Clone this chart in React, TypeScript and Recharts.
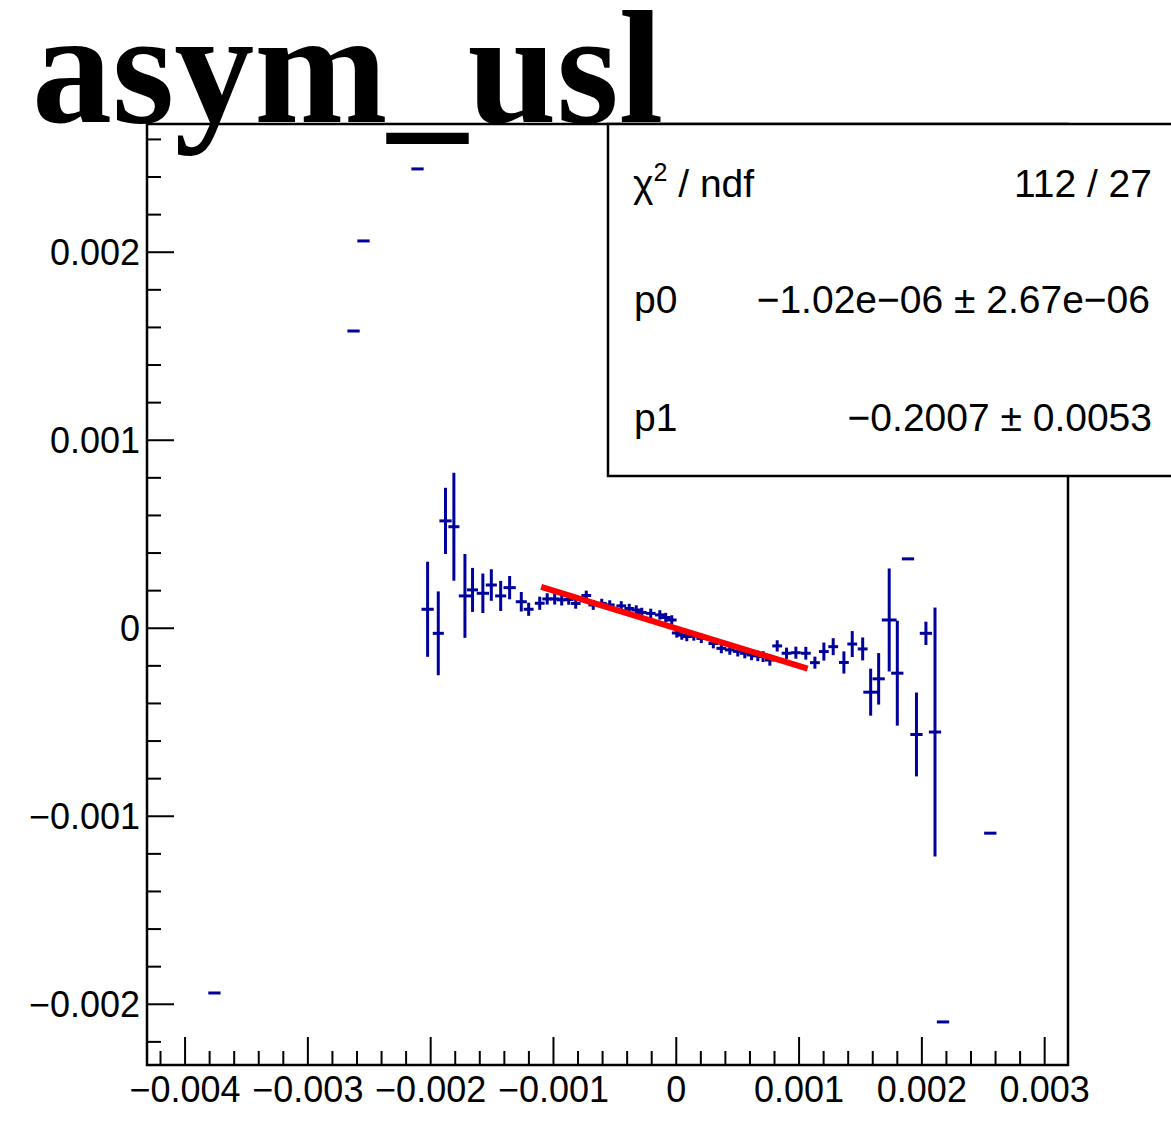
import React from 'react';
import { ComposedChart, Scatter, Line, XAxis, YAxis, ErrorBar, ReferenceArea } from 'recharts';

// ---------- data ----------
const xValues = [
  -0.003761, -0.002628, -0.002547, -0.002107,
  -0.002025, -0.001938, -0.001879, -0.001811, -0.001721, -0.001659, -0.001575, -0.001506,
  -0.00143, -0.001357, -0.001262, -0.001202, -0.001112, -0.001051, -0.00099, -0.000933,
  -0.000876, -0.000819, -0.000733, -0.000676, -0.000607, -0.000542, -0.000448, -0.000383,
  -0.000326, -0.000281, -0.000208, -0.000134, -0.000086, -0.000037, 0.000004, 0.000045,
  0.000086, 0.000143, 0.000204, 0.000302, 0.000367, 0.000436, 0.000501, 0.000558,
  0.000613, 0.000664, 0.000707, 0.000762, 0.000822, 0.000898, 0.000974, 0.001055,
  0.001129, 0.001202, 0.001278, 0.001365, 0.001433, 0.001518, 0.001583, 0.001648,
  0.001734, 0.0018, 0.001887, 0.001956, 0.002033, 0.002107, 0.002172, 0.002557,
];
const yValues = [
  -0.00194, 0.001581, 0.00206, 0.002443,
  0.000101, -0.000027, 0.000571, 0.00054, 0.000172, 0.000204, 0.000186, 0.00023,
  0.000172, 0.000216, 0.000141, 0.000101, 0.000133, 0.000156, 0.000156, 0.000151,
  0.000153, 0.000132, 0.000174, 0.000124, 0.000132, 0.000124, 0.000119, 0.000105,
  0.000097, 0.000084, 0.000079, 0.000071, 0.000057, 0.000044, -0.000025, -0.000036,
  -0.000044, -0.000041, -0.000054, -0.000081, -0.000107, -0.000115, -0.000123, -0.000133,
  -0.000142, -0.000147, -0.000151, -0.000169, -0.000094, -0.000133, -0.00013, -0.000133,
  -0.000183, -0.000124, -0.000098, -0.000182, -0.000084, -0.00011, -0.00034, -0.000269,
  0.000044, -0.000239, 0.000369, -0.000565, -0.000027, -0.000552, -0.002094, -0.00109,
];
const yErrors = [
  0, 0, 0, 0,
  0.000253, 0.000223, 0.000176, 0.000287, 0.000223, 0.000117, 0.000105, 0.000084,
  0.00008, 0.000062, 0.000052, 0.000035, 0.000035, 0.00003, 0.00003, 0.00003,
  0.000028, 0.000028, 0.000026, 0.000026, 0.000025, 0.000025, 0.000025, 0.000025,
  0.000025, 0.000025, 0.000025, 0.000025, 0.000025, 0.000025, 0.000025, 0.000025,
  0.000025, 0.000025, 0.000025, 0.000026, 0.000026, 0.000026, 0.000027, 0.000027,
  0.000028, 0.000028, 0.000029, 0.00003, 0.00003, 0.00003, 0.000032, 0.000034,
  0.000032, 0.000048, 0.000045, 0.000059, 0.000069, 0.000061, 0.000125, 0.000137,
  0.000274, 0.000279, 0, 0.000223, 0.000062, 0.000662, 0, 0,
];
const xErrors = [
  0.00005, 0.00005, 0.00005, 0.00005,
  0.00005, 0.000045, 0.00005, 0.000045, 0.00005, 0.000045, 0.00005, 0.000045,
  0.000045, 0.00005, 0.000045, 0.00004, 0.00004, 0.00004, 0.00004, 0.00004,
  0.00004, 0.00004, 0.00004, 0.00004, 0.00004, 0.00004, 0.00004, 0.00004,
  0.00004, 0.00004, 0.00004, 0.00004, 0.00004, 0.00004, 0.00004, 0.00004,
  0.00004, 0.00004, 0.00004, 0.00004, 0.00004, 0.00004, 0.00004, 0.00004,
  0.00004, 0.00004, 0.00004, 0.00004, 0.00004, 0.00004, 0.00004, 0.00004,
  0.00004, 0.00004, 0.00004, 0.00004, 0.00004, 0.00004, 0.00006, 0.00005,
  0.00006, 0.00005, 0.00005, 0.00005, 0.00005, 0.00005, 0.00005, 0.00005,
];

// fit line end points
const fitX = [-0.0011, 0.00107];
const fitY = [0.00022, -0.000215];

// axis ranges and tick labels
const X_MIN = -0.00431;
const X_MAX = 0.00319;
const Y_MIN = -0.002323;
const Y_MAX = 0.002682;
const xMajorTicks = [-0.004, -0.003, -0.002, -0.001, 0, 0.001, 0.002, 0.003];
const xTickLabels = ['\u22120.004', '\u22120.003', '\u22120.002', '\u22120.001', '0', '0.001', '0.002', '0.003'];
const yMajorTicks = [-0.002, -0.001, 0, 0.001, 0.002];
const yTickLabels = ['\u22120.002', '\u22120.001', '0', '0.001', '0.002'];

const title = 'asym_usl';
const statNames = ['p0', 'p1'];
const statValues = ['112 / 27', '\u22121.02e\u221206 \u00b1 2.67e\u221206', '\u22120.2007 \u00b1 0.0053'];

// ---------- derived tables ----------
const points = xValues.map((x, i) => ({ x, y: yValues[i], ey: yErrors[i], ex: xErrors[i] }));
const fitData = fitX.map((x, i) => ({ x, y: fitY[i] }));

const makeTicks = (from: number, to: number) => {
  const out: number[] = [];
  for (let i = from; i <= to; i++) out.push(Number((i * 0.0002).toFixed(6)));
  return out;
};
const xTicks = makeTicks(-21, 15);
const yTicks = makeTicks(-11, 13);

const majorIndex = (v: number, majors: number[]) => majors.findIndex((m) => Math.abs(m - v) < 1e-9);

const BLUE = '#00009c';
const FONT = '"Liberation Sans", Arial, Helvetica, sans-serif';

const XTick = (props: any) => {
  const { x, y, payload } = props;
  const idx = majorIndex(payload.value, xMajorTicks);
  const len = idx >= 0 ? 28 : 14;
  return (
    <g>
      <line x1={x} x2={x} y1={y} y2={y - len} stroke="#000" strokeWidth={2} />
      {idx >= 0 && (
        <text x={x} y={y + 37} textAnchor="middle" fontFamily={FONT} fontSize={36} fill="#000">
          {xTickLabels[idx]}
        </text>
      )}
    </g>
  );
};

const YTick = (props: any) => {
  const { x, y, payload } = props;
  const idx = majorIndex(payload.value, yMajorTicks);
  const len = idx >= 0 ? 27 : 14;
  return (
    <g>
      <line x1={x} x2={x + len} y1={y} y2={y} stroke="#000" strokeWidth={2} />
      {idx >= 0 && (
        <text x={x - 7} y={y + 13} textAnchor="end" fontFamily={FONT} fontSize={36} fill="#000">
          {yTickLabels[idx]}
        </text>
      )}
    </g>
  );
};

const EmptyShape = () => <g />;

export default function App() {
  return (
    <div style={{ position: 'absolute', left: 0, top: 0, width: 1171, height: 1121, background: '#fff' }}>
      <ComposedChart width={1171} height={1121} margin={{ top: 124, right: 103, bottom: 0, left: 0 }}>
        <XAxis
          type="number"
          dataKey="x"
          domain={[X_MIN, X_MAX]}
          allowDataOverflow
          ticks={xTicks}
          interval={0}
          tick={XTick}
          tickLine={false}
          axisLine={false}
          tickSize={0}
          tickMargin={0}
          height={56}
        />
        <YAxis
          type="number"
          dataKey="y"
          domain={[Y_MIN, Y_MAX]}
          allowDataOverflow
          ticks={yTicks}
          interval={0}
          tick={YTick}
          tickLine={false}
          axisLine={false}
          tickSize={0}
          tickMargin={0}
          width={147}
        />
        <ReferenceArea
          x1={X_MIN}
          x2={X_MAX}
          y1={Y_MIN}
          y2={Y_MAX}
          fill="none"
          fillOpacity={0}
          stroke="#000"
          strokeWidth={2.5}
          ifOverflow="visible"
        />
        <Scatter data={points} shape={EmptyShape} isAnimationActive={false}>
          <ErrorBar dataKey="ex" direction="x" width={0} stroke={BLUE} strokeWidth={3} isAnimationActive={false} />
          <ErrorBar dataKey="ey" direction="y" width={0} stroke={BLUE} strokeWidth={3} isAnimationActive={false} />
        </Scatter>
        <Line
          data={fitData}
          dataKey="y"
          type="linear"
          stroke="#ff0000"
          strokeWidth={6}
          dot={false}
          activeDot={false}
          isAnimationActive={false}
        />
      </ComposedChart>
      <svg
        width={1171}
        height={1121}
        style={{ position: 'absolute', left: 0, top: 0, pointerEvents: 'none' }}
      >
        <rect x={608} y={124} width={600} height={352} fill="#fff" stroke="#000" strokeWidth={2.5} />
        <text x={633} y={197} fontFamily={FONT} fontSize={39} fill="#000">
          {'\u03c7'}
          <tspan dy={-16} fontSize={25}>2</tspan>
          <tspan dy={16}>{' / ndf'}</tspan>
        </text>
        <text x={1152} y={197} textAnchor="end" fontFamily={FONT} fontSize={39} fill="#000">{statValues[0]}</text>
        <text x={634} y={313} fontFamily={FONT} fontSize={39} fill="#000">{statNames[0]}</text>
        <text x={1150} y={313} textAnchor="end" fontFamily={FONT} fontSize={39} fill="#000">{statValues[1]}</text>
        <text x={634} y={431} fontFamily={FONT} fontSize={39} fill="#000">{statNames[1]}</text>
        <text x={1152} y={431} textAnchor="end" fontFamily={FONT} fontSize={39} fill="#000">{statValues[2]}</text>
        <text x={32} y={122} fontFamily='"Liberation Serif", "Times New Roman", serif' fontWeight="bold" fontSize={160} fill="#000">
          {title}
        </text>
      </svg>
    </div>
  );
}
